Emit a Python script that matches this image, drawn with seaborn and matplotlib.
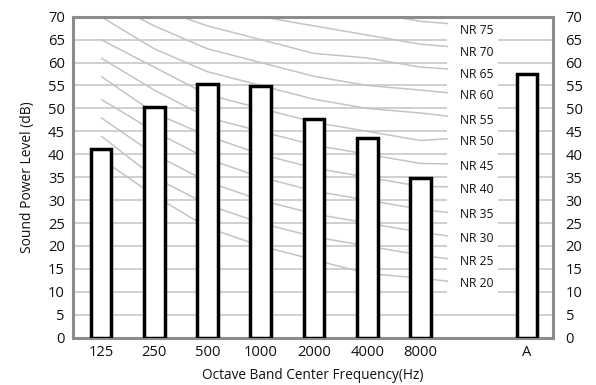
import numpy as np
import pandas as pd
import matplotlib
matplotlib.use("Agg")
import matplotlib.pyplot as plt
from matplotlib.patches import Rectangle
import seaborn as sns

# ---- data ----
bands = ["125", "250", "500", "1000", "2000", "4000", "8000", "A"]
levels = [41.1, 50.2, 55.3, 54.9, 47.8, 43.6, 34.8, 57.5]
nr_names = ["NR 75", "NR 70", "NR 65", "NR 60", "NR 55", "NR 50",
            "NR 45", "NR 40", "NR 35", "NR 30", "NR 25", "NR 20"]
nr_bands = ["125", "250", "500", "1000", "2000", "4000", "8000"]
nr_curves = [
    [87, 82, 78, 75, 73, 71, 69],
    [83, 77, 73, 70, 68, 66, 64],
    [78, 72, 68, 65, 62, 61, 59],
    [74, 68, 63, 60, 57, 55, 54],
    [70, 63, 58, 55, 52, 50, 49],
    [65, 59, 53, 50, 47, 45, 43],
    [61, 54, 48, 45, 42, 40, 38],
    [57, 49, 44, 40, 37, 35, 33],
    [52, 45, 39, 35, 32, 30, 28],
    [48, 40, 34, 30, 27, 25, 23],
    [44, 35, 29, 25, 22, 20, 18],
    [39, 31, 24, 20, 17, 14, 13],
]
nr_line_end = [68.5, 63.5, 58.6, 53.4, 48.3, 43.4, 37.9, 32.9, 27.3, 22.2, 17.2, 12.3]
nr_label_y = [66.9, 62.2, 57.3, 52.8, 47.3, 42.7, 37.3, 32.4, 26.8, 21.7, 16.7, 11.9]
y_ticks = list(range(0, 75, 5))

sns.set_theme(style="white")
plt.rcParams["font.family"] = ["Open Sans", "DejaVu Sans"]

fig = plt.figure(figsize=(5.96, 3.85), dpi=100)
ax = fig.add_axes([0.123, 0.1229, 0.805, 0.8337])

order = bands[:7] + [" "] + bands[7:]
df = pd.DataFrame({"band": bands, "level": levels})
sns.barplot(data=df, x="band", y="level", order=order, color="white",
            edgecolor="black", linewidth=2.5, width=0.39, saturation=1,
            ax=ax, zorder=4)
for p in ax.patches:
    p.set_facecolor("white")
    p.set_zorder(4)

txt_c = "#111111"
grid_c = "#c4c4c4"
for yv in y_ticks[1:-1]:
    ax.axhline(yv, color=grid_c, lw=1.1, zorder=1)

nr_x = np.arange(len(nr_bands))
end_x = len(nr_bands) - 1 + 0.52
for name, vals, ye, yl in zip(nr_names, nr_curves, nr_line_end, nr_label_y):
    xs = list(nr_x) + [end_x]
    ys = list(vals) + [ye]
    ax.plot(xs, ys, color=grid_c, lw=1.1, zorder=2, solid_capstyle="butt")
    ax.text(end_x + 0.22, yl, name, fontsize=8.7, color=txt_c,
            ha="left", va="center", zorder=3)

# white band behind labels (breaks the grid lines)
ax.add_patch(Rectangle((end_x - 0.02, 8.2), 0.96, 62, facecolor="white",
                       edgecolor="none", zorder=1.5))

ax.set_xlim(-0.52, 8.49)
ax.set_ylim(0, 70)
ax.set_yticks(y_ticks)
ax.set_xticks(range(len(order)))
ax.set_xticklabels(order)
ax.tick_params(axis="both", length=0, labelsize=10.6, colors=txt_c)
ax.tick_params(axis="y", pad=6)
ax.tick_params(axis="x", pad=5)
ax.set_xlabel("Octave Band Center Frequency(Hz)", fontsize=9.8, color=txt_c, labelpad=6)
ax.set_ylabel("Sound Power Level (dB)", fontsize=10, color=txt_c, labelpad=9)

for s in ax.spines.values():
    s.set_color("#8c8c8c")
    s.set_linewidth(2.2)
    s.set_visible(True)

ax2 = ax.twinx()
ax2.set_ylim(0, 70)
ax2.set_yticks(y_ticks)
ax2.tick_params(axis="y", length=0, labelsize=10.6, colors=txt_c, pad=9)
for s in ax2.spines.values():
    s.set_visible(False)
ax2.grid(False)
ax.grid(False)

fig.savefig("out.png", dpi=100)
